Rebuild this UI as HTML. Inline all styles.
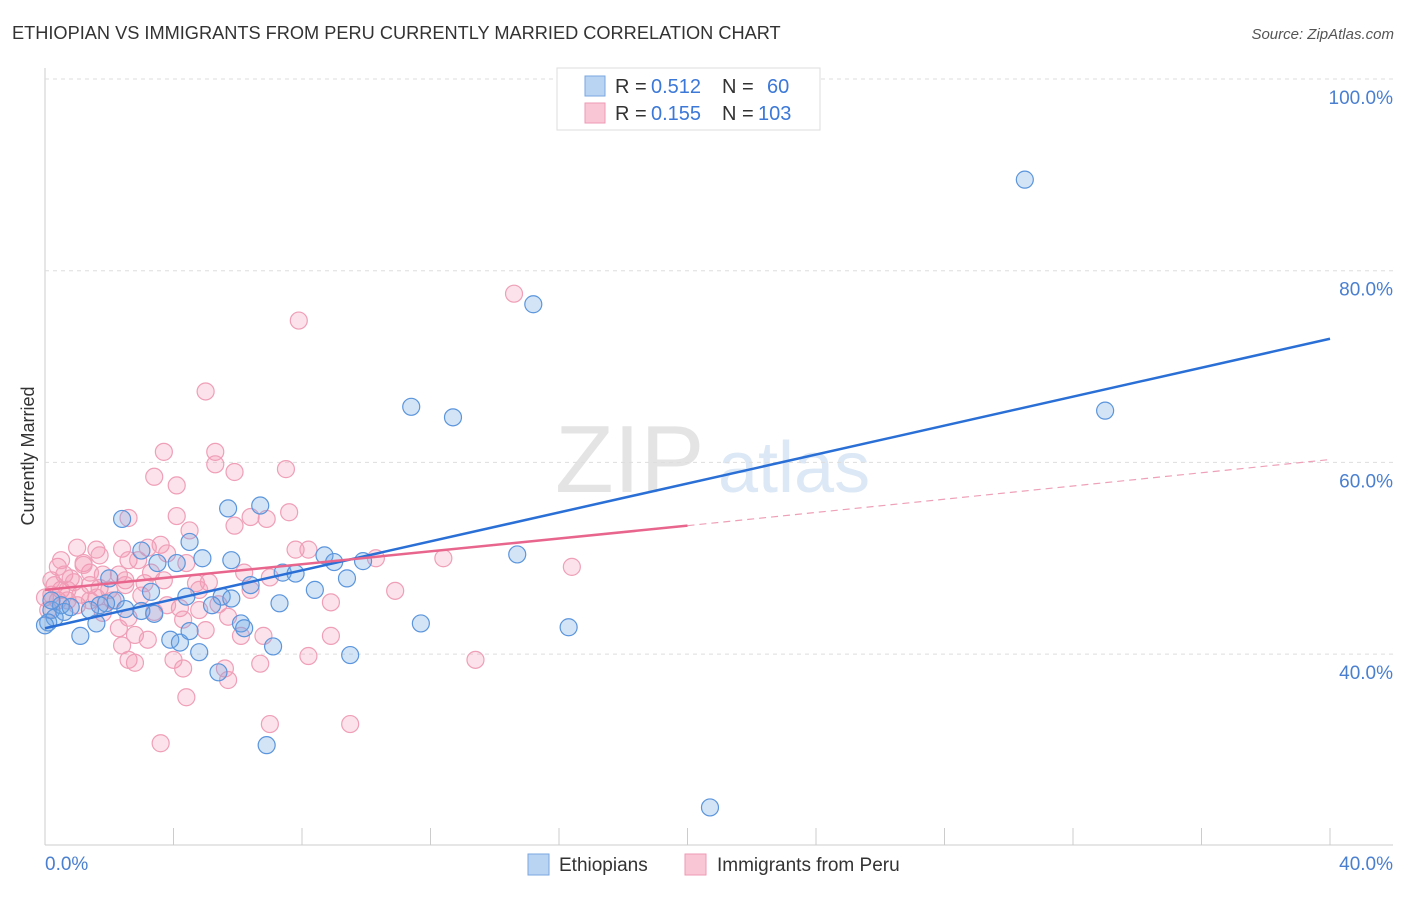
<!DOCTYPE html>
<html><head><meta charset="utf-8"><style>
body{margin:0;background:#fff;font-family:"Liberation Sans",sans-serif}
svg text{font-family:"Liberation Sans",sans-serif}
</style></head><body>
<svg id="c" width="1406" height="892" xmlns="http://www.w3.org/2000/svg">
<text x="12" y="39" font-size="18.2" fill="#333">ETHIOPIAN VS IMMIGRANTS FROM PERU CURRENTLY MARRIED CORRELATION CHART</text>
<text x="1394" y="39" font-size="15" fill="#555" font-style="italic" text-anchor="end">Source: ZipAtlas.com</text>
<text x="34" y="456" font-size="18" fill="#333" text-anchor="middle" transform="rotate(-90 34 456)">Currently Married</text>
<g><text x="555" y="492" font-size="96" fill="#e4e4e4" font-family="Liberation Serif">ZIP</text><text x="718" y="492" font-size="72" fill="#dce8f5">atlas</text></g>
<g id="grid"></g><g id="pts"></g><g id="lines"></g>
<g>
<rect x="557" y="68" width="263" height="62" fill="#fff" stroke="#ddd"/>
<rect x="585" y="76" width="20" height="20" fill="#b9d3f3" stroke="#7aa7e0"/>
<rect x="585" y="103" width="20" height="20" fill="#f9c6d5" stroke="#ee9ab5"/>
<text x="615" y="93" font-size="20" fill="#333">R =</text>
<text x="651" y="93" font-size="20" fill="#3b78d8">0.512</text>
<text x="722" y="93" font-size="20" fill="#333">N =</text>
<text x="767" y="93" font-size="20" fill="#3b78d8">60</text>
<text x="615" y="120" font-size="20" fill="#333">R =</text>
<text x="651" y="120" font-size="20" fill="#3b78d8">0.155</text>
<text x="722" y="120" font-size="20" fill="#333">N =</text>
<text x="758" y="120" font-size="20" fill="#3b78d8">103</text>
</g>
<g>
<rect x="528" y="854" width="21" height="21" fill="#b9d3f3" stroke="#7aa7e0"/>
<text x="559" y="871" font-size="19" fill="#333">Ethiopians</text>
<rect x="685" y="854" width="21" height="21" fill="#f9c6d5" stroke="#ee9ab5"/>
<text x="717" y="871" font-size="19" fill="#333">Immigrants from Peru</text>
</g>
<text x="45" y="870" font-size="19" fill="#4a7fd0">0.0%</text>
<text x="1393" y="870" font-size="19" fill="#4a7fd0" text-anchor="end">40.0%</text>
</svg>
<script>
const yTicks=[100,80,60,40];
const yTickLabels=["100.0%","80.0%","60.0%","40.0%"];
const xTicks=[0,4,8,12,16,20,24,28,32,36,40];
const blueX=[30.5,15.2,11.4,12.7,33.0,2.4,5.7,6.7,4.5,3.0,4.9,3.5,4.1,8.7,9.0,9.9,14.7,9.4,7.4,7.8,6.4,8.4,4.4,5.5,5.8,5.2,7.3,3.3,2.2,2.5,1.9,1.7,1.4,1.6,1.1,3.0,3.4,3.9,4.2,4.8,4.5,6.1,6.2,7.1,9.5,11.7,16.3,5.4,6.9,20.7,0.2,0.3,0.1,0.5,0.6,0.8,0.2,0.0,2.0,5.8];
const blueY=[89.5,76.5,65.8,64.7,65.4,54.1,55.2,55.5,51.7,50.8,50.0,49.5,49.5,50.3,49.6,49.7,50.4,47.9,48.5,48.4,47.2,46.7,46.0,46.0,45.8,45.1,45.3,46.5,45.6,44.7,45.3,45.1,44.6,43.2,41.9,44.5,44.2,41.5,41.2,40.2,42.4,43.2,42.7,40.8,39.9,43.2,42.8,38.1,30.5,24.0,44.6,43.8,43.3,45.1,44.4,44.9,45.6,43.0,47.9,49.8];
const pinkX=[14.6,7.9,5.0,3.7,5.3,5.3,5.9,3.4,4.1,7.5,2.6,4.1,6.4,6.9,4.5,5.9,7.6,1.0,1.6,2.4,3.2,3.6,3.8,2.6,2.9,7.8,8.2,10.3,12.4,16.4,4.4,7.0,6.2,2.3,2.5,1.8,1.4,1.2,0.4,0.6,0.8,0.9,1.4,1.7,2.0,2.5,3.1,3.7,4.7,5.1,4.8,5.4,5.7,8.9,10.9,0.5,0.2,0.2,0.1,0.4,0.7,1.1,1.8,2.6,3.4,4.2,2.3,2.8,3.8,4.3,4.8,5.0,6.8,6.1,8.9,2.4,3.2,4.0,4.3,2.6,2.8,5.6,5.7,6.7,8.2,13.4,4.4,7.0,9.5,3.6,1.6,2.1,0.5,1.2,3.3,1.7,6.4,1.0,0.3,0.7,1.4,3.0,0.0];
const pinkY=[77.6,74.8,67.4,61.1,61.1,59.8,59.0,58.5,57.6,59.3,54.2,54.4,54.3,54.1,52.9,53.4,54.8,51.1,50.9,51.0,51.1,51.4,50.5,49.8,49.8,50.9,50.9,50.0,50.0,49.1,49.5,48.0,48.5,48.3,47.7,48.3,48.5,49.5,49.1,48.3,47.9,47.5,47.2,46.9,46.7,47.2,47.4,47.7,47.4,47.5,46.7,45.2,43.9,45.4,46.6,46.7,46.2,47.7,44.6,45.6,45.6,46.2,44.3,43.8,44.4,44.8,42.7,42.0,45.1,43.6,44.6,42.5,41.9,41.9,41.9,40.9,41.5,39.4,38.5,39.4,39.1,38.5,37.3,39.0,39.8,39.4,35.5,32.7,32.7,30.7,45.9,45.6,49.8,49.3,48.5,50.3,46.7,45.1,47.2,46.7,45.6,46.1,45.9];
const blueLine=[[0,42.7],[40,72.9]];
const pinkSolid=[[0,46.7],[20,53.4]];
const pinkDash=[[20,53.4],[40,60.3]];
const NS="http://www.w3.org/2000/svg";
const sx=v=>45+v*(1285/40);
const sy=v=>79+(100-v)*9.585;
function mk(t,a,p){const e=document.createElementNS(NS,t);for(const k in a)e.setAttribute(k,a[k]);p.appendChild(e);return e;}
const grid=document.getElementById('grid');
const ax=mk('line',{x1:45,y1:68,x2:45,y2:845,stroke:'#ccc'},grid);


const bx=mk('line',{x1:45,y1:845,x2:1393,y2:845,stroke:'#ccc'},grid);


yTicks.forEach((v,i)=>{
 const g=mk('line',{x1:45,y1:sy(v),x2:1393,y2:sy(v),stroke:'#ddd','stroke-dasharray':'4,4'},grid);
 
 
 const t=mk('text',{x:1393,y:sy(v)+25,'font-size':19,fill:'#4a7fd0','text-anchor':'end'},grid);
 t.textContent=yTickLabels[i];
 
 
});
xTicks.forEach(v=>{
 const t=mk('line',{x1:sx(v),y1:828,x2:sx(v),y2:845,stroke:'#ccc'},grid);
 
 
});
const pts=document.getElementById('pts');
pinkX.forEach((x,i)=>{
 const c=mk('circle',{cx:sx(x),cy:sy(pinkY[i]),r:8.5,fill:'rgba(244,150,180,0.28)',stroke:'#ef9fb8','stroke-width':1.2},pts);
 
 
});
blueX.forEach((x,i)=>{
 const c=mk('circle',{cx:sx(x),cy:sy(blueY[i]),r:8.5,fill:'rgba(110,165,230,0.3)',stroke:'#5b95dc','stroke-width':1.2},pts);
 
 
});
const L=document.getElementById('lines');
const l1=mk('line',{x1:sx(blueLine[0][0]),y1:sy(blueLine[0][1]),x2:sx(blueLine[1][0]),y2:sy(blueLine[1][1]),stroke:'#2a6fd6','stroke-width':2.5},L);


const l2=mk('line',{x1:sx(pinkSolid[0][0]),y1:sy(pinkSolid[0][1]),x2:sx(pinkSolid[1][0]),y2:sy(pinkSolid[1][1]),stroke:'#e8668d','stroke-width':2.5},L);


const l3=mk('line',{x1:sx(pinkDash[0][0]),y1:sy(pinkDash[0][1]),x2:sx(pinkDash[1][0]),y2:sy(pinkDash[1][1]),stroke:'#eea0b8','stroke-width':1.2,'stroke-dasharray':'7,5'},L);


</script>
</body></html>
